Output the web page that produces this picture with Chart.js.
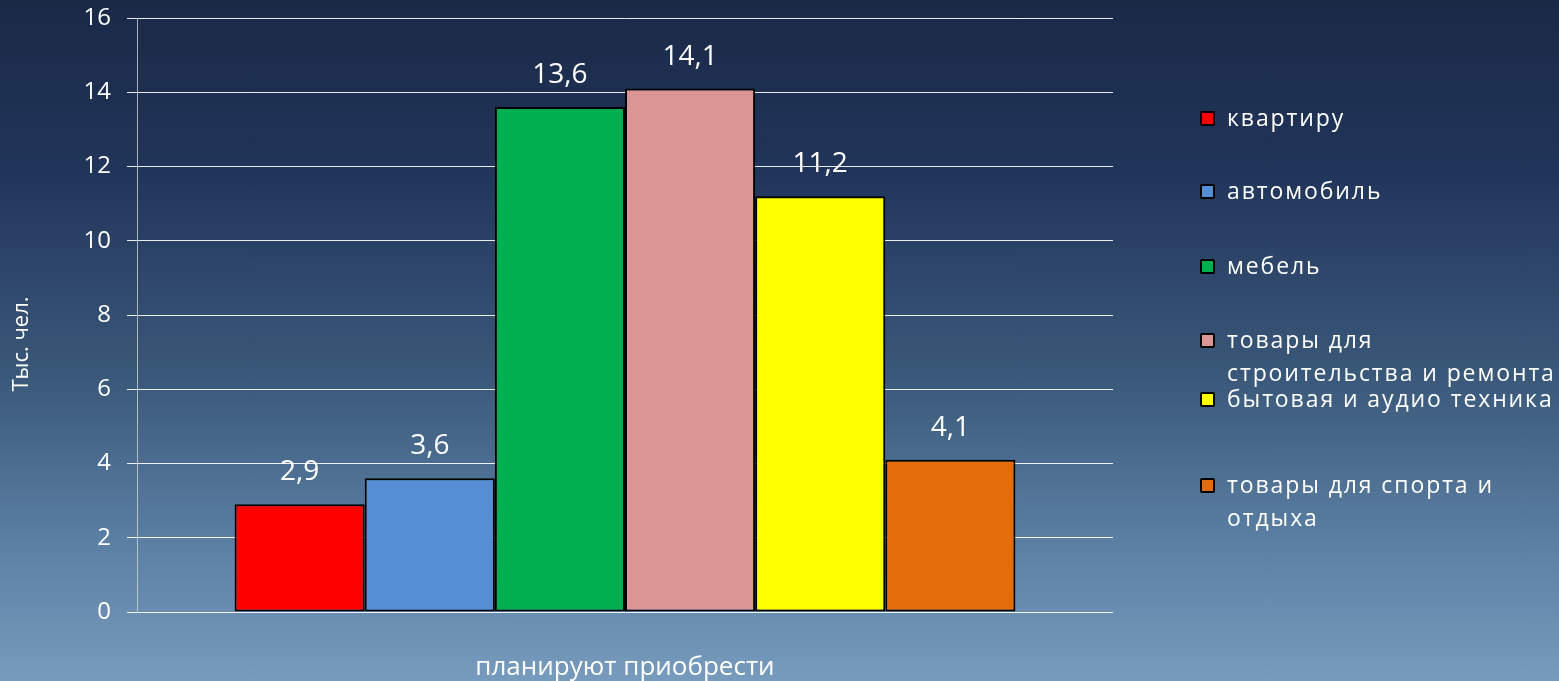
<!DOCTYPE html>
<html lang="ru">
<head>
<meta charset="utf-8">
<title>Планируют приобрести</title>
<script src="https://cdn.jsdelivr.net/npm/chart.js@4/dist/chart.umd.min.js"></script>
<style>
  html, body { margin: 0; padding: 0; }
  body {
    width: 1559px; height: 681px; overflow: hidden; position: relative;
    background: linear-gradient(to bottom, #1a2946 0%, #21355a 25%, #3a5879 55%, #5b80a4 80%, #769bbc 100%);
    font-family: "Open Sans", "DejaVu Sans", sans-serif;
  }
  #wrap { position: absolute; left: 0; top: 0; width: 1559px; height: 681px; }
  #legend { position: absolute; left: 1200px; top: 0; color: #fff; font-size: 23px; letter-spacing: 1.9px; }
  .lg-item { position: absolute; left: 0; white-space: nowrap; line-height: 33px; }
  .lg-box { position: absolute; left: 0; top: 10px; width: 11px; height: 11px; border: 2px solid #000; border-radius: 2px; }
  .lg-text { margin-left: 27px; }
</style>
</head>
<body>
<div id="wrap"><canvas id="chart" width="1559" height="681"></canvas></div>
<div id="legend"></div>
<script>
const categories = ["планируют приобрести"];
const seriesNames = ["квартиру", "автомобиль", "мебель", "товары для строительства и ремонта", "бытовая и аудио техника", "товары для спорта и отдыха"];
const legendLines = [["квартиру"], ["автомобиль"], ["мебель"], ["товары для", "строительства и ремонта"], ["бытовая и аудио техника"], ["товары для спорта и", "отдыха"]];
const values = [2.9, 3.6, 13.6, 14.1, 11.2, 4.1];
const colors = ["#ff0000", "#558ed5", "#00b050", "#d99694", "#ffff00", "#e46c0a"];
const yTicks = [0, 2, 4, 6, 8, 10, 12, 14, 16];
const yTitle = "Тыс. чел.";

const FONT = "'Open Sans', 'DejaVu Sans', sans-serif";
const fmt = (v) => String(v).replace(".", ",");

// подписи значений над столбцами
const valueLabels = {
  id: "valueLabels",
  afterDatasetsDraw(chart) {
    const ctx = chart.ctx;
    ctx.save();
    ctx.fillStyle = "#ffffff";
    ctx.font = `28px ${FONT}`;
    ctx.textAlign = "center";
    ctx.textBaseline = "bottom";
    chart.data.datasets.forEach((ds, i) => {
      const bar = chart.getDatasetMeta(i).data[0];
      ctx.fillText(fmt(ds.data[0]), bar.x, bar.y - 18);
    });
    ctx.restore();
  }
};

// подпись оси Y (повёрнутая)
const yAxisTitle = {
  id: "yAxisTitle",
  afterDraw(chart) {
    const ctx = chart.ctx;
    ctx.save();
    ctx.translate(22, 344);
    ctx.rotate(-Math.PI / 2);
    ctx.fillStyle = "#ffffff";
    ctx.font = `22px ${FONT}`;
    ctx.textAlign = "center";
    ctx.textBaseline = "middle";
    ctx.fillText(yTitle, 0, 0);
    ctx.restore();
  }
};

new Chart(document.getElementById("chart"), {
  type: "bar",
  data: {
    labels: categories,
    datasets: seriesNames.map((name, i) => ({
      label: name,
      data: [values[i]],
      backgroundColor: colors[i],
      borderColor: "#000000",
      borderWidth: 2,
      borderSkipped: false,
      categoryPercentage: 0.8,
      barPercentage: 1.0,
    })),
  },
  options: {
    responsive: false,
    animation: false,
    layout: { padding: { top: 18, right: 446, bottom: 0, left: 0 } },
    plugins: { legend: { display: false }, tooltip: { enabled: false } },
    scales: {
      x: {
        grid: { display: false, drawTicks: false },
        border: { display: false },
        ticks: { color: "#ffffff", padding: 40, font: { size: 26, family: FONT } },
        afterFit(scale) { scale.height = 69; scale.paddingLeft = 0; scale.paddingRight = 0; },
      },
      y: {
        min: 0, max: 16,
        afterBuildTicks(scale) { scale.ticks = yTicks.map((v) => ({ value: v })); },
        grid: { color: "rgba(255,255,255,0.9)", lineWidth: 1, tickLength: 10 },
        border: { display: true, color: "rgba(210,210,210,0.8)", width: 1 },
        ticks: { color: "#ffffff", padding: 16, font: { size: 24, family: FONT } },
        afterFit(scale) { scale.width = 137; scale.paddingTop = 0; scale.paddingBottom = 0; },
      },
    },
  },
  plugins: [valueLabels, yAxisTitle],
});

// легенда справа
const legendTops = [101, 174, 249, 323, 382, 468];
const legend = document.getElementById("legend");
legendLines.forEach((lines, i) => {
  const item = document.createElement("div");
  item.className = "lg-item";
  item.style.top = legendTops[i] + "px";
  item.innerHTML = `<span class="lg-box" style="background:${colors[i]}"></span>` +
    `<div class="lg-text">${lines.join("<br>")}</div>`;
  legend.appendChild(item);
});
</script>
</body>
</html>
